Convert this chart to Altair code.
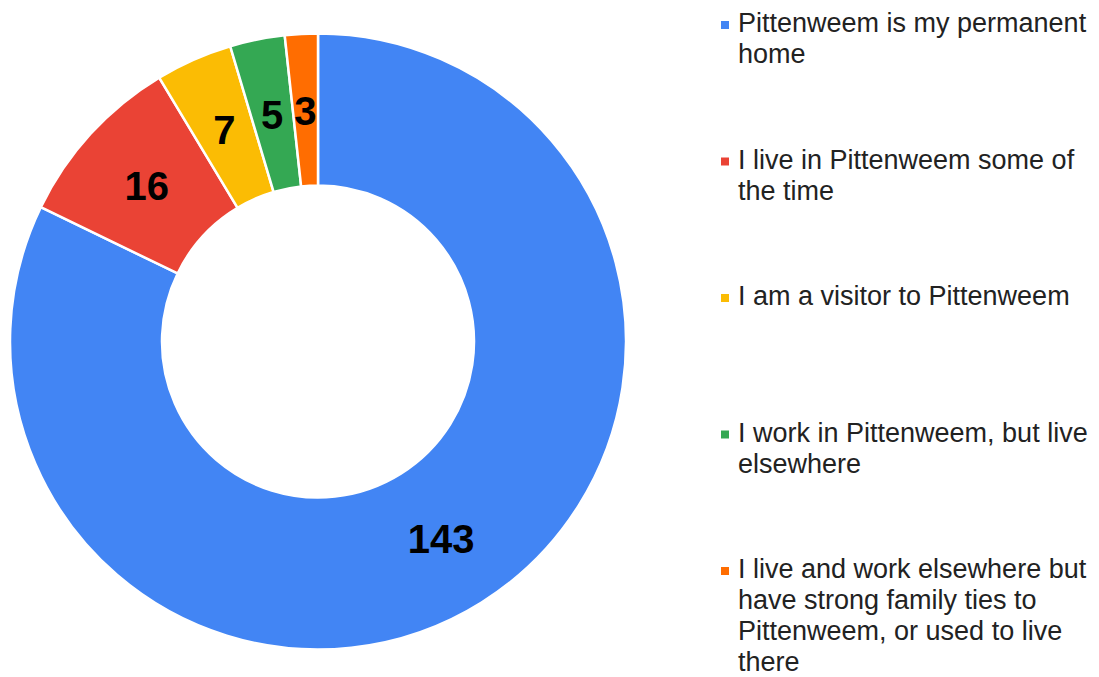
import altair as alt
import pandas as pd

categories = [
    "Pittenweem is my permanent home",
    "I live in Pittenweem some of the time",
    "I am a visitor to Pittenweem",
    "I work in Pittenweem, but live elsewhere",
    "I live and work elsewhere but have strong family ties to Pittenweem, or used to live there",
]
legend_lines = [
    "Pittenweem is my permanent\nhome",
    "I live in Pittenweem some of\nthe time",
    "I am a visitor to Pittenweem",
    "I work in Pittenweem, but live\nelsewhere",
    "I live and work elsewhere but\nhave strong family ties to\nPittenweem, or used to live\nthere",
]
counts = [143, 16, 7, 5, 3]
colors = ["#4285F4", "#EA4335", "#FBBC04", "#34A853", "#FF6D01"]

df = pd.DataFrame({
    "category": categories,
    "label": legend_lines,
    "count": counts,
    "idx": list(range(len(categories))),
})

FONT = "Liberation Sans, Arial, sans-serif"
color_scale = alt.Scale(domain=categories, range=colors)

base = alt.Chart(df).encode(
    theta=alt.Theta("count:Q", stack=True),
    order=alt.Order("idx:Q"),
)
arcs = base.mark_arc(radius=308, radius2=156, stroke="white", strokeWidth=2.5).encode(
    color=alt.Color("category:N", scale=color_scale, legend=None)
)
labels = base.mark_text(radius=232, font=FONT, fontSize=40, fontWeight="bold", dy=3,
                        color="black", baseline="middle", align="center").encode(
    text=alt.Text("count:Q")
)
donut = alt.layer(arcs, labels).properties(width=636, height=671)

ypos = alt.Y("idx:Q", scale=alt.Scale(domain=[0, 4], range=[26, 572]), axis=None)
squares = alt.Chart(df).mark_square(size=64, opacity=1, yOffset=-7).encode(
    x=alt.value(89),
    y=ypos,
    color=alt.Color("category:N", scale=color_scale, legend=None),
)
texts = alt.Chart(df).mark_text(font=FONT, fontSize=27, align="left", baseline="alphabetic",
                                lineBreak="\n", lineHeight=31, color="#222222").encode(
    x=alt.value(102),
    y=ypos,
    text="label:N",
)
legend = alt.layer(squares, texts).properties(width=463, height=671)

chart = alt.hconcat(donut, legend, spacing=0).properties(
    padding={"left": 0, "top": 6, "right": 0, "bottom": 0},
    background="white",
).configure_view(stroke=None)

chart.save("out.html", embed_options={"renderer": "svg", "actions": False})
